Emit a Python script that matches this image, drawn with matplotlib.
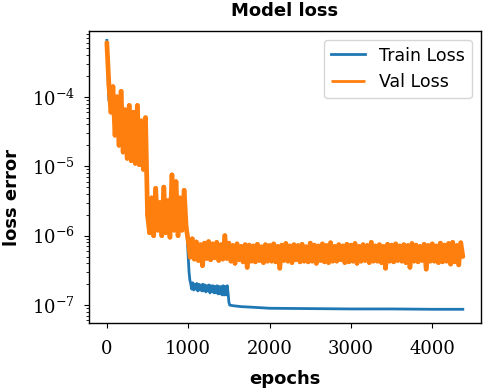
import numpy as np
import matplotlib
matplotlib.use("Agg")
import matplotlib.pyplot as plt
from matplotlib.collections import LineCollection

# --- datos ---
STEP = 25  # epocas entre puntos de la curva de validacion

val_loss = [
    # 0 - 475
    6.0e-4, 1.5e-4, 6.0e-5, 1.4e-4, 2.8e-5, 1.0e-4, 2.0e-5, 1.2e-4, 1.6e-5, 6.5e-5,
    1.3e-5, 7.5e-5, 1.2e-5, 6.0e-5, 1.1e-5, 7.5e-5, 1.05e-5, 4.5e-5, 9.0e-6, 5.0e-5,
    # 500 - 975
    2.0e-6, 1.1e-6, 3.5e-6, 1.0e-6, 4.8e-6, 1.2e-6, 3.0e-6, 1.0e-6, 5.0e-6, 1.1e-6,
    3.2e-6, 9.5e-7, 7.5e-6, 1.2e-6, 6.0e-6, 1.0e-6, 3.5e-6, 1.2e-6, 4.5e-6, 1.3e-6,
    # 1000 - 4375
    8.5e-7, 4.9e-7, 9.0e-7, 4.6e-7, 8.1e-7, 4.4e-7, 7.4e-7, 3.7e-7,
    7.8e-7, 4.7e-7, 8.2e-7, 4.5e-7, 7.6e-7, 4.8e-7, 8.0e-7, 4.4e-7,
    7.4e-7, 4.6e-7, 1.0e-6, 4.7e-7, 7.8e-7, 4.3e-7, 7.2e-7, 4.0e-7,
    7.6e-7, 4.5e-7, 7.0e-7, 4.2e-7, 7.4e-7, 3.5e-7, 7.3e-7, 4.3e-7,
    7.1e-7, 4.2e-7, 7.5e-7, 4.4e-7, 6.9e-7, 4.1e-7, 7.4e-7, 4.3e-7,
    7.2e-7, 4.3e-7, 7.6e-7, 4.2e-7, 7.0e-7, 3.4e-7, 7.3e-7, 4.4e-7,
    7.7e-7, 4.3e-7, 7.1e-7, 4.1e-7, 7.4e-7, 4.5e-7, 7.2e-7, 4.2e-7,
    7.5e-7, 4.3e-7, 6.9e-7, 4.2e-7, 7.8e-7, 4.3e-7, 7.3e-7, 4.0e-7,
    7.1e-7, 4.4e-7, 7.6e-7, 4.2e-7, 7.2e-7, 4.1e-7, 7.9e-7, 4.3e-7,
    7.0e-7, 4.3e-7, 7.4e-7, 4.5e-7, 7.1e-7, 4.1e-7, 7.5e-7, 4.2e-7,
    7.3e-7, 4.3e-7, 7.7e-7, 4.0e-7, 7.0e-7, 4.3e-7, 7.4e-7, 4.4e-7,
    7.2e-7, 4.1e-7, 8.0e-7, 4.3e-7, 7.1e-7, 4.3e-7, 7.4e-7, 4.1e-7,
    7.0e-7, 3.4e-7, 7.5e-7, 4.3e-7, 7.3e-7, 4.2e-7, 7.6e-7, 4.4e-7,
    7.1e-7, 4.3e-7, 7.4e-7, 4.1e-7, 7.2e-7, 3.5e-7, 7.7e-7, 4.3e-7,
    7.3e-7, 4.2e-7, 7.0e-7, 4.4e-7, 7.5e-7, 3.3e-7, 7.2e-7, 4.3e-7,
    7.6e-7, 4.3e-7, 7.1e-7, 4.1e-7, 7.8e-7, 4.2e-7, 7.3e-7, 4.3e-7,
    7.7e-7, 3.9e-7, 8.0e-7, 4.2e-7, 7.2e-7, 3.8e-7, 7.9e-7, 5.0e-7,
]
val_epochs = np.arange(len(val_loss)) * STEP

# entrenamiento: tramo inicial, tramo ruidoso (1030-1490) y cola
train_head_epochs = [0, 25, 100, 250, 475, 500, 750, 975, 1000, 1010, 1020]
train_head = [6.5e-4, 9.0e-5, 5.0e-5, 3.0e-5, 2.0e-5, 1.8e-6, 1.8e-6, 1.8e-6,
              5.0e-7, 3.0e-7, 2.3e-7]
train_mid = [
    2.05e-7, 1.7e-7, 2.1e-7, 1.65e-7, 2.0e-7, 1.7e-7, 2.05e-7, 1.6e-7, 2.0e-7, 1.65e-7,
    1.95e-7, 1.6e-7, 2.0e-7, 1.6e-7, 1.95e-7, 1.55e-7, 1.9e-7, 1.6e-7, 1.95e-7, 1.5e-7,
    1.9e-7, 1.55e-7, 1.9e-7, 1.5e-7, 1.85e-7, 1.5e-7, 1.9e-7, 1.45e-7, 1.85e-7, 1.45e-7,
    1.85e-7, 1.4e-7, 1.9e-7, 1.4e-7, 1.85e-7, 1.4e-7, 1.9e-7, 1.4e-7,
]
train_mid_epochs = 1030 + np.arange(len(train_mid)) * 12.5
train_tail_epochs = [1500, 1510, 1550, 1650, 1800, 2000, 2500, 3000, 3500, 4000, 4375]
train_tail = [1.1e-7, 1.0e-7, 9.8e-8, 9.5e-8, 9.3e-8, 9.0e-8, 8.9e-8, 8.8e-8,
              8.8e-8, 8.7e-8, 8.7e-8]

train_epochs = np.concatenate([train_head_epochs, train_mid_epochs, train_tail_epochs])
train_loss = np.concatenate([train_head, train_mid, train_tail])

plt.rcParams['mathtext.fontset'] = 'dejavuserif'

fig = plt.figure(figsize=(4.84, 3.91), dpi=100)
ax = fig.add_axes([0.184, 0.175, 0.809, 0.746])
ax.set_yscale('log')

ax.plot(train_epochs, train_loss, color='#1f77b4', linewidth=2.0, label='Train Loss')

# la curva de validacion va como segmentos sueltos para que el ruido quede macizo
pts = np.column_stack([val_epochs, val_loss])
segs = np.stack([pts[:-1], pts[1:]], axis=1)
val_lc = LineCollection(segs, colors='#ff7f0e', linewidths=3.4,
                        capstyle='round', label='Val Loss')
ax.add_collection(val_lc)
ax.autoscale_view()
ax.set_ylim(5.6e-8, 8.9e-4)

ax.set_title('Model loss', fontsize=13, fontweight='bold', pad=11)
ax.set_xlabel('epochs', fontsize=13, fontweight='bold', labelpad=9)
ax.set_ylabel('loss error', fontsize=13, fontweight='bold')
ax.yaxis.set_label_coords(-0.1726, 0.43)

ax.set_xticks([0, 1000, 2000, 3000, 4000])
ax.tick_params(axis='x', which='major', labelsize=13, pad=9)
ax.tick_params(axis='y', which='major', labelsize=13, pad=6.5)
for lab in ax.get_xticklabels() + ax.get_yticklabels():
    lab.set_family('DejaVu Serif')

for sp in ax.spines.values():
    sp.set_linewidth(1.0)

leg = ax.legend(loc='upper right', fontsize=12.5, handlelength=2.0)
for h in leg.legend_handles:
    h.set_linewidth(2.0)

fig.savefig('out.png', dpi=100)
